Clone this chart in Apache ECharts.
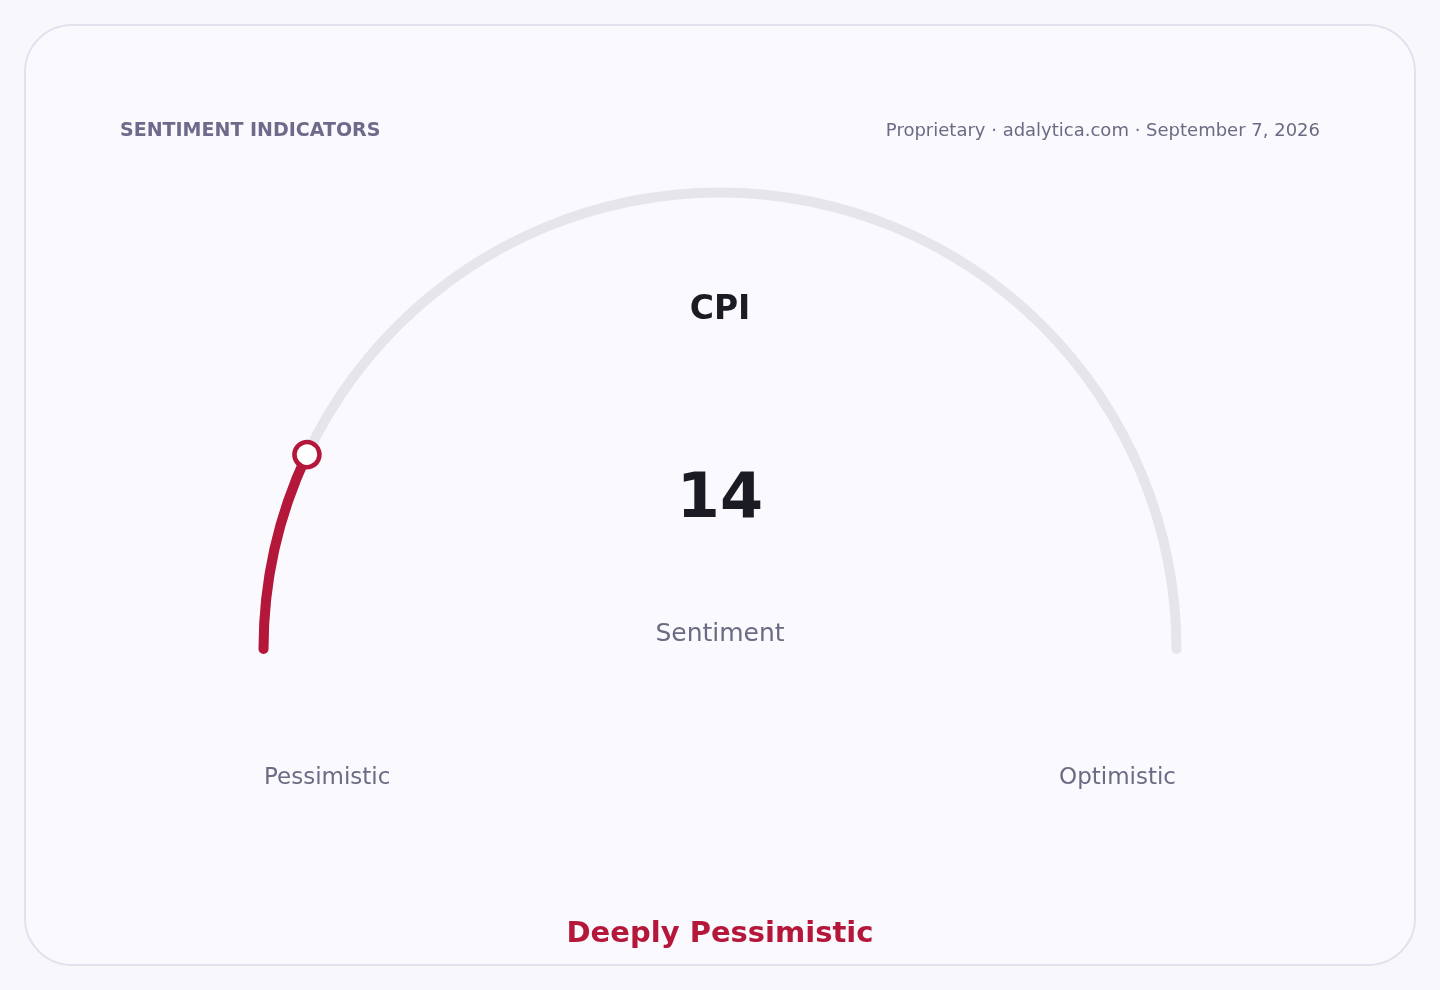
<!DOCTYPE html>
<html>
<head>
<meta charset="utf-8">
<title>Sentiment Indicators</title>
<script src="https://cdn.jsdelivr.net/npm/echarts@6/dist/echarts.min.js"></script>
<style>
  html, body { margin: 0; padding: 0; background: #f7f7fc; }
  .card {
    position: absolute; left: 24px; top: 24px; width: 1388px; height: 938px;
    background: #f9f9fe; border: 2px solid #e2e2ee; border-radius: 48px;
  }
  #chart { position: absolute; left: 0; top: 0; width: 1440px; height: 990px; }
</style>
</head>
<body>
<div class="card"></div>
<div id="chart"></div>
<script>
  // Gauge data
  const scaleMin = 0
  const scaleMax = 100
  const indexName = 'CPI'
  const indexValue = [14]
  const valueLabel = 'Sentiment'
  const endLabels = ['Pessimistic', 'Optimistic']
  const verdict = 'Deeply Pessimistic'
  const headerLeft = 'SENTIMENT INDICATORS'
  const headerRight = 'Proprietary · adalytica.com · September 7, 2026'

  const RED = '#b5173b'
  const TRACK = '#e5e5eb'
  const INK = '#1b1b24'
  const MUTED = '#6b6b84'
  const FONT = '"DejaVu Sans", sans-serif'

  const cx = 720, cy = 649, arcR = 456.5, arcW = 10
  const markerD = 25

  const chart = echarts.init(document.getElementById('chart'))

  const txt = (text, x, y, size, color, weight, align) => ({
    type: 'text', x, y, silent: true,
    style: {
      text, fill: color, font: `${weight} ${size}px ${FONT}`,
      align, verticalAlign: 'middle', textAlign: align, textVerticalAlign: 'middle',
    },
  })

  const outerR = arcR + arcW / 2
  const hidden = { show: false }

  chart.setOption({
    animation: false,
    graphic: [
      txt(headerLeft, 120, 131, 19, '#6e6a8a', 'bold', 'left'),
      txt(headerRight, 1320, 131, 18, MUTED, 'normal', 'right'),
      txt(indexName, 720, 310, 33, INK, 'bold', 'center'),
      txt(endLabels[0], 264, 778, 23, MUTED, 'normal', 'left'),
      txt(endLabels[1], 1176, 778, 23, MUTED, 'normal', 'right'),
      txt(verdict, 720, 934, 29, RED, 'bold', 'center'),
    ],
    series: [{
      // track + progress + centre texts
      type: 'gauge',
      z: 2,
      center: [cx, cy],
      radius: outerR,
      startAngle: 180,
      endAngle: 0,
      min: scaleMin,
      max: scaleMax,
      axisLine: { roundCap: true, lineStyle: { width: arcW, color: [[1, TRACK]] } },
      progress: { show: true, width: arcW, roundCap: true, itemStyle: { color: RED } },
      pointer: hidden,
      anchor: hidden,
      splitLine: hidden,
      axisTick: hidden,
      axisLabel: hidden,
      title: {
        offsetCenter: [0, -15],
        fontSize: 25, color: MUTED, fontFamily: FONT,
      },
      detail: {
        offsetCenter: [0, -148],
        fontSize: 62, fontWeight: 'bold', color: INK, fontFamily: FONT,
        formatter: '{value}',
      },
      data: indexValue.map(v => ({ value: v, name: valueLabel })),
    }, {
      // ring marker at the current value, drawn on top
      type: 'gauge',
      z: 5,
      center: [cx, cy],
      radius: outerR,
      startAngle: 180,
      endAngle: 0,
      min: scaleMin,
      max: scaleMax,
      axisLine: hidden,
      progress: hidden,
      pointer: {
        show: true,
        icon: 'circle',
        width: markerD,
        length: markerD,
        offsetCenter: [0, -(arcR - markerD / 2)],
        keepAspect: true,
        itemStyle: { color: '#ffffff', borderColor: RED, borderWidth: 4.5 },
      },
      anchor: hidden,
      splitLine: hidden,
      axisTick: hidden,
      axisLabel: hidden,
      title: hidden,
      detail: hidden,
      data: indexValue.map(v => ({ value: v })),
    }],
  })
</script>
</body>
</html>
